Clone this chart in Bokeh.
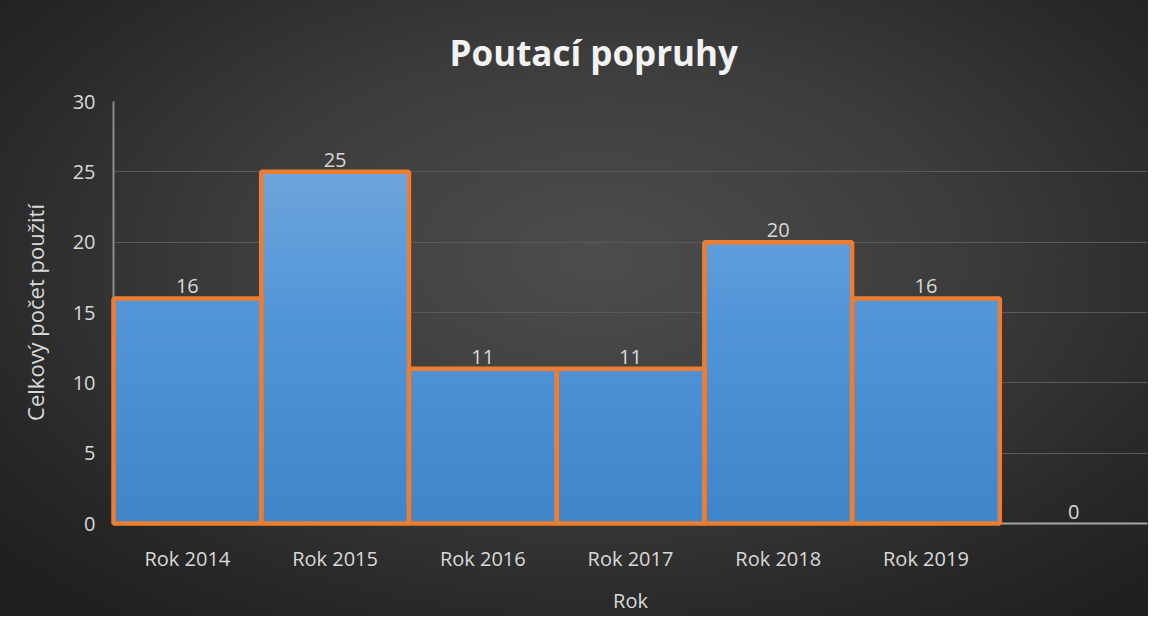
from bokeh.plotting import figure
from bokeh.models import FactorRange, Range1d, FixedTicker
from bokeh.core.properties import value
from bokeh.embed import file_html
from bokeh.resources import INLINE

# ---- data ----
categories = ["Rok 2014", "Rok 2015", "Rok 2016", "Rok 2017", "Rok 2018", "Rok 2019", " "]
values = [16, 25, 11, 11, 20, 16, 0]
y_ticks = [0, 5, 10, 15, 20, 25, 30]
title_text = "Poutací popruhy"
x_label = "Rok"
y_label = "Celkový počet použití"

FONT = "Open Sans"
TXT = "#d9d9d9"

p = figure(
    width=1148, height=616,
    x_range=FactorRange(factors=categories, range_padding=0),
    y_range=Range1d(0, 30),
    output_backend="svg", toolbar_location=None,
    title=title_text,
    min_border_left=113, min_border_right=1,
    min_border_top=101, min_border_bottom=88,
)

# background (radial gradient via CSS, canvas transparent)
p.background_fill_alpha = 0
p.border_fill_alpha = 0
p.outline_line_color = None
p.styles = {"background": "radial-gradient(ellipse 70% 75% at 52% 42%, #4d4d4d 0%, #3c3c3c 45%, #282828 80%, #1f1f1f 100%)"}

# title
p.title.align = "left"
p.title.offset = 336
p.title.text_font = FONT
p.title.text_font_size = "35px"
p.title.text_font_style = "bold"
p.title.text_color = "#f2f2f2"
p.title.standoff = 52

# bars with vertical gradient (slices derived from the values)
def grad_color(y):
    stops = [(0, (0x3f, 0x85, 0xc9)), (15, (0x52, 0x96, 0xd8)), (30, (0x7a, 0xab, 0xdf))]
    for (y0, c0), (y1, c1) in zip(stops[:-1], stops[1:]):
        if y <= y1:
            t = (y - y0) / (y1 - y0)
            c = [round(a + (b - a) * t) for a, b in zip(c0, c1)]
            return "#%02x%02x%02x" % tuple(c)
    return "#%02x%02x%02x" % stops[-1][1]

sx, sb, st, sc = [], [], [], []
step = 0.5
for cat, v in zip(categories, values):
    k = 0.0
    while k < v:
        top = min(k + step, v)
        sx.append(cat); sb.append(k); st.append(top); sc.append(grad_color((k + top) / 2))
        k += step
p.vbar(x=sx, bottom=sb, top=st, width=1.0, fill_color=sc, line_color=sc, line_width=1)

# orange outlines
ox = [c for c, v in zip(categories, values) if v > 0]
ov = [v for v in values if v > 0]
p.vbar(x=ox, top=ov, width=1.0, fill_color=None, line_color="#ed7d31", line_width=4.5, level="overlay")

# data labels
p.text(x=categories, y=values, text=[str(v) for v in values], text_align="center",
       text_baseline="bottom", y_offset=-5, text_font=value(FONT),
       text_font_size="20px", text_color=TXT, level="overlay")

# axes
p.yaxis.ticker = FixedTicker(ticks=y_ticks)
p.ygrid.ticker = FixedTicker(ticks=y_ticks)
p.ygrid.grid_line_color = "#5a5a5a"
p.ygrid.grid_line_width = 1
p.xgrid.grid_line_color = None

for ax in (p.xaxis[0], p.yaxis[0]):
    ax.major_tick_line_color = None
    ax.minor_tick_line_color = None
    ax.major_label_text_font = FONT
    ax.major_label_text_font_size = "20px"
    ax.major_label_text_color = TXT
    ax.axis_label_text_font = FONT
    ax.axis_label_text_font_style = "normal"
    ax.axis_label_text_color = TXT
    ax.axis_line_width = 2

p.xaxis.axis_label = x_label
p.yaxis.axis_label = y_label
p.xaxis.axis_label_text_font_size = "20px"
p.yaxis.axis_label_text_font_size = "22px"
p.xaxis.axis_line_color = "#a6a6a6"
p.yaxis.axis_line_color = "#8c8c8c"
p.xaxis.major_label_standoff = 15
p.xaxis.axis_label_standoff = 12
p.yaxis.major_label_standoff = 12
p.yaxis.axis_label_standoff = 20

open("out.html", "w").write(file_html(p, INLINE))
